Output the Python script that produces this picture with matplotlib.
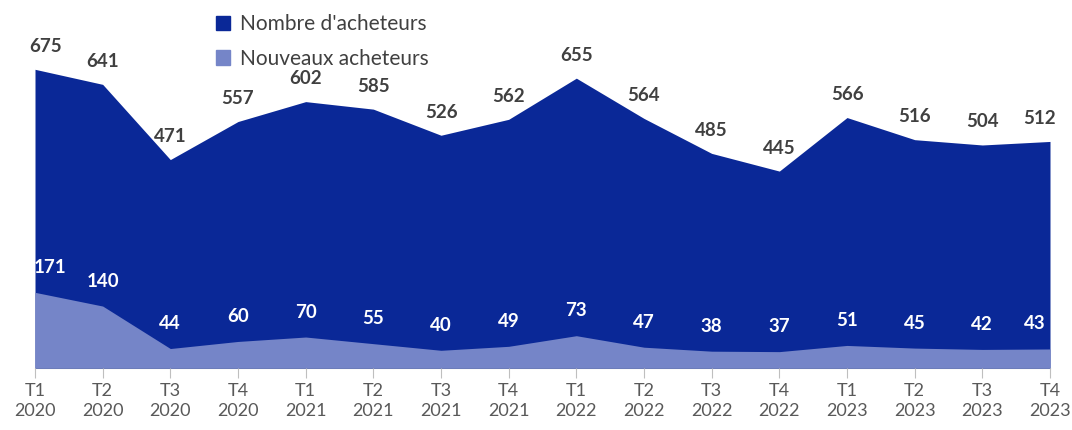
import matplotlib.pyplot as plt
from matplotlib.patches import Patch

# données trimestrielles
trimestres = ["T1\n2020", "T2\n2020", "T3\n2020", "T4\n2020",
              "T1\n2021", "T2\n2021", "T3\n2021", "T4\n2021",
              "T1\n2022", "T2\n2022", "T3\n2022", "T4\n2022",
              "T1\n2023", "T2\n2023", "T3\n2023", "T4\n2023"]
acheteurs = [675, 641, 471, 557, 602, 585, 526, 562, 655, 564, 485, 445, 566, 516, 504, 512]
nouveaux = [171, 140, 44, 60, 70, 55, 40, 49, 73, 47, 38, 37, 51, 45, 42, 43]

fonc = "#0A2897"
clair = "#7585C8"
gris = "#595959"

plt.rcParams['font.family'] = ['Lato', 'DejaVu Sans']

fig = plt.figure(figsize=(10.72, 4.30), dpi=100)
ax = fig.add_axes([35 / 1072, 62 / 430, 1015 / 1072, 354 / 430])

x = list(range(len(trimestres)))
ax.fill_between(x, 0, acheteurs, color=fonc, linewidth=0, label="Nombre d'acheteurs")
ax.fill_between(x, 0, nouveaux, color=clair, linewidth=0, label="Nouveaux acheteurs")

n = len(x)


def decalage(i, d):
    # les étiquettes des bords restent dans la zone de tracé
    if i == 0:
        return d
    if i == n - 1:
        return -d
    return 0


for i, v in enumerate(acheteurs):
    ax.annotate(str(v), (i, v), xytext=(decalage(i, 11), 23), textcoords='offset pixels',
                ha='center', va='center', fontsize=13.5, fontweight='bold',
                color="#404040", annotation_clip=False)
for i, v in enumerate(nouveaux):
    ax.annotate(str(v), (i, v), xytext=(decalage(i, 15), 25), textcoords='offset pixels',
                ha='center', va='center', fontsize=13.5, fontweight='bold',
                color="white", annotation_clip=False)

ax.set_xlim(0, n - 1)
ax.set_ylim(0, 800)
ax.set_xticks(x)
ax.set_xticklabels(trimestres, fontsize=13, color=gris, linespacing=1.25)
ax.set_yticks([])
ax.tick_params(axis='x', length=7, color="#BFBFBF", pad=4)
for s in ['top', 'right', 'left']:
    ax.spines[s].set_visible(False)
ax.spines['bottom'].set_color("#BFBFBF")
ax.spines['bottom'].set_zorder(0)

handles = [Patch(color=fonc), Patch(color=clair)]
fig.legend(handles, ["Nombre d'acheteurs", "Nouveaux acheteurs"],
           loc='upper left', bbox_to_anchor=(197 / 1072, 1.01), frameon=False,
           fontsize=15, labelcolor="#404040", handlelength=0.7, handleheight=0.7,
           handletextpad=0.45, labelspacing=0.7)

fig.savefig("out.png", dpi=100)
